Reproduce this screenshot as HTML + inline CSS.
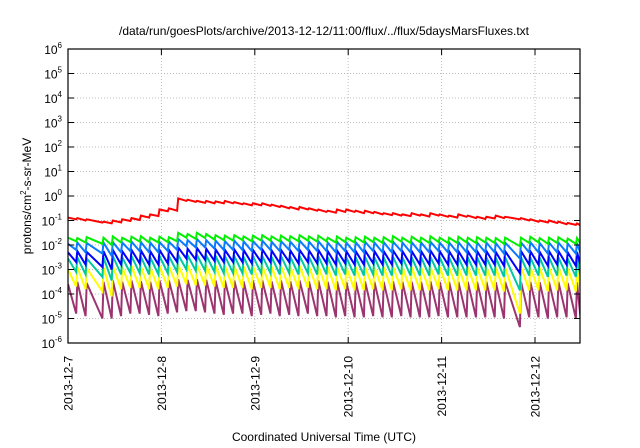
<!DOCTYPE html>
<html><head><meta charset="utf-8"><style>
html,body{margin:0;padding:0;background:#fff}
svg{display:block;font-family:"Liberation Sans",sans-serif}
</style></head><body>
<svg id="chart" width="640" height="448" viewBox="0 0 640 448">
<text x="324" y="35" font-size="12" text-anchor="middle">/data/run/goesPlots/archive/2013-12-12/11:00/flux/../flux/5daysMarsFluxes.txt</text>
<g id="grid"></g>
<g id="series"></g>
<rect x="68" y="49" width="512" height="294" fill="none" stroke="#000" stroke-width="1.2"/>
<g id="axes"></g>
<text transform="translate(31,196) rotate(-90)" font-size="12" text-anchor="middle">protons/cm<tspan font-size="8" dy="-5">2</tspan><tspan dy="5">-s-sr-MeV</tspan></text>
<text x="324" y="441" font-size="12" text-anchor="middle">Coordinated Universal Time (UTC)</text>
</svg>
<script>
const dayLabels = ["2013-12-7","2013-12-8","2013-12-9","2013-12-10","2013-12-11","2013-12-12"];
const yExponents = [-6,-5,-4,-3,-2,-1,0,1,2,3,4,5,6];
const toothStarts = [0,0.1,0.2,0.38,0.48,0.58,0.68,0.78,0.88,0.98,1.08,1.18,1.28,1.38,1.48,1.58,1.68,1.78,1.88,1.98,2.08,2.18,2.28,2.38,2.48,2.58,2.68,2.78,2.88,2.98,3.08,3.18,3.28,3.38,3.48,3.58,3.68,3.78,3.88,3.98,4.08,4.18,4.28,4.38,4.48,4.58,4.68,4.85,4.95,5.05,5.15,5.25,5.35,5.45];
const endDay = 5.5;
const redPeaks = [-0.88,-0.9,-0.95,-1.05,-1.0,-0.95,-0.9,-0.8,-0.75,-0.55,-0.5,-0.1,-0.15,-0.2,-0.2,-0.22,-0.2,-0.25,-0.3,-0.3,-0.3,-0.35,-0.4,-0.45,-0.45,-0.5,-0.55,-0.6,-0.55,-0.55,-0.6,-0.6,-0.65,-0.7,-0.7,-0.75,-0.7,-0.75,-0.7,-0.75,-0.8,-0.75,-0.8,-0.85,-0.85,-0.8,-0.85,-0.9,-0.95,-1.0,-1.0,-1.05,-1.1,-1.12];
const redTroughs = [-0.95,-1.0,-1.08,-1.12,-1.08,-1.02,-0.98,-0.88,-0.82,-0.62,-0.6,-0.2,-0.24,-0.28,-0.3,-0.3,-0.3,-0.34,-0.38,-0.38,-0.4,-0.45,-0.5,-0.55,-0.55,-0.6,-0.65,-0.68,-0.65,-0.65,-0.7,-0.7,-0.75,-0.78,-0.8,-0.82,-0.8,-0.84,-0.8,-0.85,-0.88,-0.85,-0.9,-0.94,-0.92,-0.9,-0.95,-1.0,-1.05,-1.08,-1.1,-1.15,-1.18,-1.2];
const greenPeaks = [-1.7,-1.72,-1.68,-1.7,-1.65,-1.7,-1.66,-1.64,-1.7,-1.66,-1.68,-1.5,-1.55,-1.5,-1.55,-1.6,-1.62,-1.6,-1.65,-1.62,-1.6,-1.65,-1.62,-1.64,-1.6,-1.65,-1.62,-1.7,-1.65,-1.7,-1.68,-1.66,-1.7,-1.68,-1.64,-1.7,-1.66,-1.7,-1.64,-1.7,-1.7,-1.66,-1.7,-1.68,-1.7,-1.72,-1.7,-1.7,-1.66,-1.72,-1.7,-1.68,-1.74,-1.72];
const greenTroughs = [-1.85,-1.9,-1.95,-2.0,-1.9,-1.88,-1.86,-1.9,-1.9,-1.88,-1.85,-1.7,-1.75,-1.72,-1.78,-1.8,-1.82,-1.8,-1.85,-1.82,-1.82,-1.85,-1.84,-1.85,-1.82,-1.86,-1.85,-1.9,-1.88,-1.9,-1.9,-1.88,-1.92,-1.9,-1.86,-1.92,-1.88,-1.92,-1.88,-1.92,-1.92,-1.9,-1.92,-1.9,-1.92,-1.95,-2.05,-1.92,-1.9,-1.95,-1.92,-1.9,-1.95,-1.95];
const lightBluePeaks = [-1.95,-1.9,-1.92,-1.9,-1.88,-1.9,-1.86,-1.88,-1.9,-1.88,-1.86,-1.75,-1.8,-1.76,-1.8,-1.82,-1.84,-1.82,-1.85,-1.84,-1.82,-1.86,-1.84,-1.86,-1.82,-1.86,-1.84,-1.9,-1.86,-1.9,-1.88,-1.86,-1.9,-1.88,-1.86,-1.9,-1.88,-1.9,-1.86,-1.9,-1.9,-1.88,-1.9,-1.9,-1.9,-1.92,-1.9,-1.9,-1.88,-1.92,-1.9,-1.9,-1.94,-1.92];
const lightBlueTroughs = [-2.2,-2.3,-2.35,-2.45,-2.3,-2.25,-2.25,-2.3,-2.3,-2.25,-2.2,-2.05,-2.1,-2.1,-2.15,-2.2,-2.2,-2.2,-2.25,-2.2,-2.2,-2.25,-2.2,-2.25,-2.2,-2.25,-2.25,-2.3,-2.25,-2.3,-2.3,-2.25,-2.3,-2.3,-2.25,-2.3,-2.3,-2.3,-2.25,-2.3,-2.3,-2.3,-2.3,-2.3,-2.3,-2.35,-2.55,-2.3,-2.3,-2.35,-2.3,-2.3,-2.35,-2.35];
const bluePeaks = [-2.3,-2.25,-2.28,-2.25,-2.2,-2.25,-2.2,-2.22,-2.25,-2.2,-2.2,-2.1,-2.15,-2.12,-2.15,-2.18,-2.2,-2.18,-2.2,-2.2,-2.18,-2.22,-2.2,-2.22,-2.2,-2.22,-2.2,-2.25,-2.22,-2.25,-2.25,-2.22,-2.25,-2.25,-2.22,-2.25,-2.25,-2.25,-2.22,-2.25,-2.25,-2.25,-2.25,-2.25,-2.25,-2.28,-2.25,-2.25,-2.25,-2.28,-2.25,-2.25,-2.3,-2.28];
const blueTroughs = [-2.7,-2.8,-2.9,-3.0,-2.8,-2.75,-2.75,-2.8,-2.8,-2.75,-2.7,-2.55,-2.6,-2.6,-2.65,-2.7,-2.7,-2.7,-2.75,-2.7,-2.7,-2.75,-2.7,-2.75,-2.7,-2.75,-2.75,-2.8,-2.75,-2.8,-2.8,-2.75,-2.8,-2.8,-2.75,-2.8,-2.8,-2.8,-2.75,-2.8,-2.8,-2.8,-2.8,-2.8,-2.8,-2.85,-3.15,-2.8,-2.8,-2.85,-2.8,-2.8,-2.85,-2.85];
const tealPeaks = [-2.55,-2.5,-2.55,-2.5,-2.45,-2.5,-2.45,-2.48,-2.5,-2.45,-2.45,-2.4,-2.42,-2.4,-2.42,-2.45,-2.45,-2.45,-2.48,-2.45,-2.45,-2.48,-2.45,-2.48,-2.45,-2.48,-2.45,-2.5,-2.48,-2.5,-2.5,-2.48,-2.5,-2.5,-2.48,-2.5,-2.5,-2.5,-2.48,-2.5,-2.5,-2.5,-2.5,-2.5,-2.5,-2.52,-2.5,-2.5,-2.5,-2.52,-2.5,-2.5,-2.55,-2.52];
const tealTroughs = [-3.1,-3.2,-3.3,-3.45,-3.2,-3.15,-3.15,-3.2,-3.2,-3.15,-3.1,-3.0,-3.05,-3.05,-3.1,-3.15,-3.15,-3.15,-3.2,-3.15,-3.15,-3.2,-3.15,-3.2,-3.15,-3.2,-3.2,-3.25,-3.2,-3.25,-3.25,-3.2,-3.25,-3.25,-3.2,-3.25,-3.25,-3.25,-3.2,-3.25,-3.25,-3.25,-3.25,-3.25,-3.25,-3.3,-3.85,-3.25,-3.25,-3.3,-3.25,-3.25,-3.3,-3.3];
const yellowPeaks = [-3.0,-2.9,-2.95,-2.9,-2.85,-2.9,-2.85,-2.88,-2.9,-2.85,-2.85,-2.8,-2.82,-2.8,-2.82,-2.85,-2.85,-2.85,-2.88,-2.85,-2.85,-2.88,-2.85,-2.88,-2.85,-2.88,-2.85,-2.9,-2.88,-2.9,-2.9,-2.88,-2.9,-2.9,-2.88,-2.9,-2.9,-2.9,-2.88,-2.9,-2.9,-2.9,-2.9,-2.9,-2.9,-2.92,-2.9,-2.9,-2.9,-2.92,-2.9,-2.9,-2.95,-2.92];
const yellowTroughs = [-3.7,-3.8,-3.9,-4.1,-3.8,-3.75,-3.75,-3.8,-3.8,-3.75,-3.7,-3.6,-3.65,-3.65,-3.7,-3.75,-3.75,-3.75,-3.8,-3.75,-3.75,-3.8,-3.75,-3.8,-3.75,-3.8,-3.8,-3.85,-3.8,-3.85,-3.85,-3.8,-3.85,-3.85,-3.8,-3.85,-3.85,-3.85,-3.8,-3.85,-3.85,-3.85,-3.85,-3.85,-3.85,-3.9,-4.8,-3.85,-3.85,-3.9,-3.85,-3.85,-3.9,-3.9];
const purplePeaks = [-3.6,-3.5,-3.55,-3.5,-3.45,-3.5,-3.45,-3.48,-3.5,-3.45,-3.45,-3.4,-3.42,-3.4,-3.42,-3.45,-3.45,-3.45,-3.48,-3.45,-3.45,-3.48,-3.45,-3.48,-3.45,-3.48,-3.45,-3.5,-3.48,-3.5,-3.5,-3.48,-3.5,-3.5,-3.48,-3.5,-3.5,-3.5,-3.48,-3.5,-3.5,-3.5,-3.5,-3.5,-3.5,-3.52,-3.5,-3.5,-3.5,-3.52,-3.5,-3.5,-3.55,-3.52];
const purpleTroughs = [-4.8,-4.9,-5.0,-5.0,-4.9,-4.8,-4.8,-4.85,-4.9,-4.8,-4.75,-4.7,-4.7,-4.75,-4.8,-4.85,-4.8,-4.8,-4.9,-4.85,-4.8,-4.9,-4.85,-4.9,-4.8,-4.9,-4.9,-4.95,-4.9,-4.95,-4.95,-4.9,-4.95,-4.95,-4.9,-4.95,-4.95,-4.95,-4.9,-4.95,-4.95,-4.95,-4.95,-4.95,-4.95,-5.0,-5.35,-4.95,-4.95,-5.0,-4.95,-4.95,-5.0,-5.0];

const NS = "http://www.w3.org/2000/svg";
const X0 = 68, X1 = 580, Y0 = 49, Y1 = 343, DAYPX = 93.4;
const xScale = d => X0 + d * DAYPX;
const yScale = e => Y0 + (6 - e) * (Y1 - Y0) / 12;
const grid = document.getElementById("grid");
const axes = document.getElementById("axes");

yExponents.forEach((e, i) => {
  const y = yScale(e);
  if (i > 0 && i < yExponents.length - 1) {
    const gl = document.createElementNS(NS, "line");
    gl.setAttribute("x1", X0); gl.setAttribute("x2", X1); gl.setAttribute("y1", y); gl.setAttribute("y2", y);
    gl.setAttribute("stroke", "#bbb"); gl.setAttribute("stroke-dasharray", "1,2");
    
    
    grid.appendChild(gl);
  }
  [[X0, X0 + 6], [X1 - 6, X1]].forEach(p => {
    const t = document.createElementNS(NS, "line");
    t.setAttribute("x1", p[0]); t.setAttribute("x2", p[1]); t.setAttribute("y1", y); t.setAttribute("y2", y);
    t.setAttribute("stroke", "#000");
    
    
    axes.appendChild(t);
  });
  const lb = document.createElementNS(NS, "text");
  lb.setAttribute("x", 62); lb.setAttribute("y", y + 5);
  lb.setAttribute("font-size", "12"); lb.setAttribute("text-anchor", "end");
  lb.innerHTML = '10<tspan font-size="8" dy="-6">' + e + '</tspan>';
  
  
  axes.appendChild(lb);
});

dayLabels.forEach((d, i) => {
  const x = xScale(i);
  if (i > 0) {
    const gl = document.createElementNS(NS, "line");
    gl.setAttribute("x1", x); gl.setAttribute("x2", x); gl.setAttribute("y1", Y0); gl.setAttribute("y2", Y1);
    gl.setAttribute("stroke", "#bbb"); gl.setAttribute("stroke-dasharray", "1,2");
    
    
    grid.appendChild(gl);
    [[Y0, Y0 + 6], [Y1 - 6, Y1]].forEach(p => {
      const t = document.createElementNS(NS, "line");
      t.setAttribute("x1", x); t.setAttribute("x2", x); t.setAttribute("y1", p[0]); t.setAttribute("y2", p[1]);
      t.setAttribute("stroke", "#000");
      
      
      axes.appendChild(t);
    });
  }
  const lb = document.createElementNS(NS, "text");
  lb.setAttribute("transform", "translate(" + (x + 4.5) + ",356) rotate(-90)");
  lb.setAttribute("font-size", "12"); lb.setAttribute("text-anchor", "end");
  lb.textContent = d;
  
  
  axes.appendChild(lb);
});

const seriesDefs = [
  ["purple", purplePeaks, purpleTroughs, "#9c3470"],
  ["yellow", yellowPeaks, yellowTroughs, "#ffff00"],
  ["teal", tealPeaks, tealTroughs, "#00c8a0"],
  ["blue", bluePeaks, blueTroughs, "#0000ff"],
  ["light-blue", lightBluePeaks, lightBlueTroughs, "#0a7aff"],
  ["green", greenPeaks, greenTroughs, "#00f000"],
  ["red", redPeaks, redTroughs, "#ff0000"]
];
const sg = document.getElementById("series");
seriesDefs.forEach(s => {
  const n = Math.min(toothStarts.length, s[1].length, s[2].length);
  const pts = [];
  for (let i = 0; i < n; i++) {
    const tEnd = i + 1 < toothStarts.length ? toothStarts[i + 1] : endDay;
    pts.push(xScale(toothStarts[i]).toFixed(1) + "," + yScale(s[1][i]).toFixed(1));
    pts.push(xScale(Math.min(tEnd, endDay) - 0.012).toFixed(1) + "," + yScale(s[2][i]).toFixed(1));
  }
  const pl = document.createElementNS(NS, "polyline");
  pl.setAttribute("points", pts.join(" "));
  pl.setAttribute("fill", "none"); pl.setAttribute("stroke", s[3]);
  pl.setAttribute("stroke-width", "2"); pl.setAttribute("stroke-linejoin", "miter");
  
  
  sg.appendChild(pl);
});
const clip = document.createElementNS(NS, "clipPath");
clip.setAttribute("id", "pc");
const cr = document.createElementNS(NS, "rect");
cr.setAttribute("x", X0); cr.setAttribute("y", Y0); cr.setAttribute("width", X1 - X0); cr.setAttribute("height", Y1 - Y0);
clip.appendChild(cr);
document.getElementById("chart").appendChild(clip);
sg.setAttribute("clip-path", "url(#pc)");
</script>
</body></html>
